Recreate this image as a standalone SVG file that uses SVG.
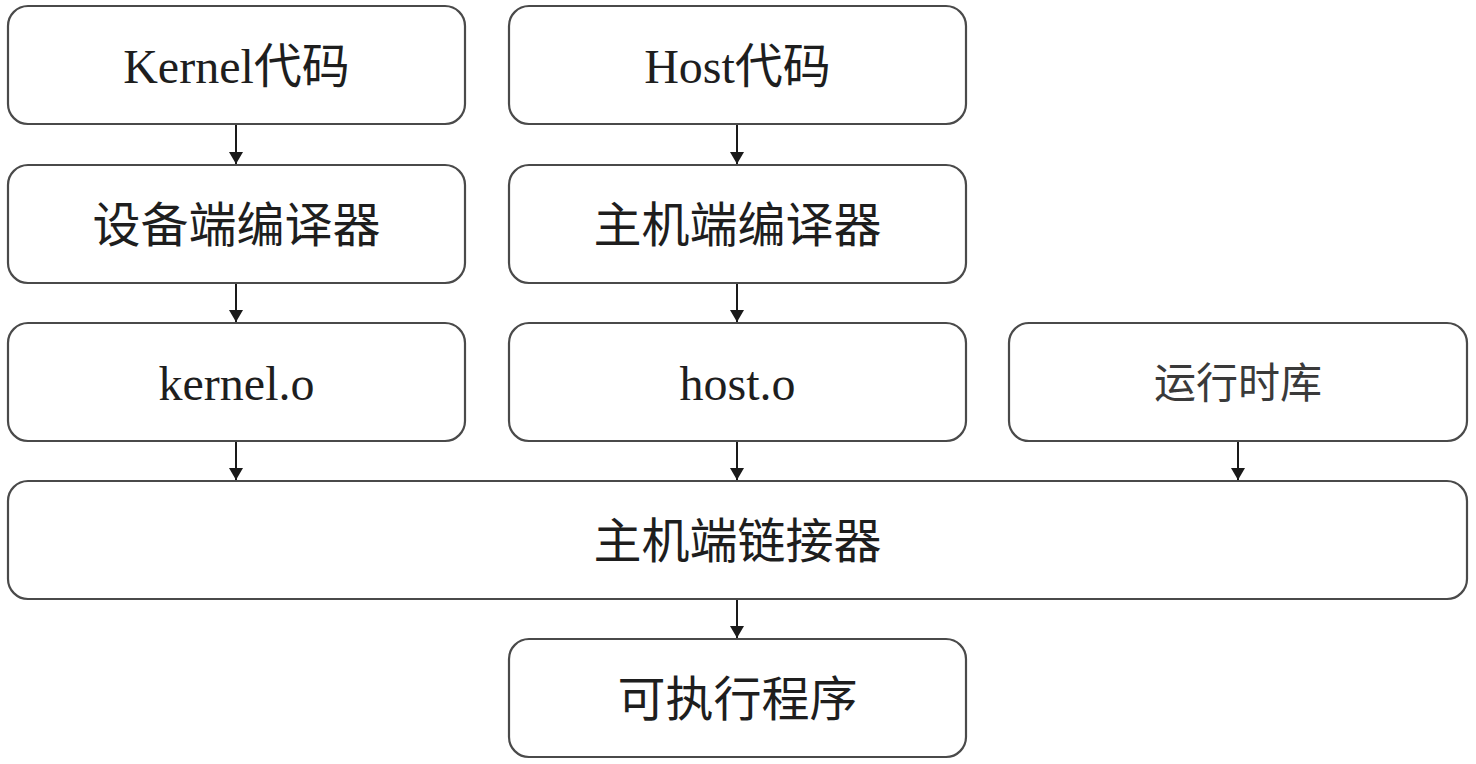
<svg xmlns="http://www.w3.org/2000/svg" width="1476" height="764" viewBox="0 0 1476 764">
<defs>
<style>
.box{fill:#fff;stroke:#4a4a4a;stroke-width:2.2}
.t{font-family:"Liberation Serif","Noto Sans CJK SC",serif;font-size:48px;fill:#1e1e1e;text-anchor:middle}
.t2{font-family:"Liberation Serif","Noto Sans CJK SC",serif;font-size:42px;fill:#3a3a3a;text-anchor:middle}
.c{stroke:#1a1a1a;stroke-width:2;fill:none;marker-end:url(#ah)}
</style>
<marker id="ah" viewBox="0 0 12 14" refX="12" refY="7" markerWidth="12" markerHeight="14" markerUnits="userSpaceOnUse" orient="auto">
<path d="M0,0 L12,7 L0,14 Z" fill="#1a1a1a"/>
</marker>
</defs>
<rect width="1476" height="764" fill="#fff"/>
<g id="connectors">
<path class="c" d="M236,125 V164"/>
<path class="c" d="M737,125 V164"/>
<path class="c" d="M236,284 V322"/>
<path class="c" d="M737,284 V322"/>
<path class="c" d="M236,442 V480"/>
<path class="c" d="M737,442 V480"/>
<path class="c" d="M1238,442 V480"/>
<path class="c" d="M737,600 V638"/>
</g>
<g id="kernel-code"><rect class="box" x="8" y="6" width="457" height="118" rx="20"/><text class="t" x="236.5" y="83">Kernel代码</text></g>
<g id="host-code"><rect class="box" x="509" y="6" width="457" height="118" rx="20"/><text class="t" x="737.5" y="83">Host代码</text></g>
<g id="device-compiler"><rect class="box" x="8" y="165" width="457" height="118" rx="20"/><text class="t" x="236.5" y="242">设备端编译器</text></g>
<g id="host-compiler"><rect class="box" x="509" y="165" width="457" height="118" rx="20"/><text class="t" x="737.5" y="242">主机端编译器</text></g>
<g id="kernel-o"><rect class="box" x="8" y="323" width="457" height="118" rx="20"/><text class="t" x="236.5" y="400">kernel.o</text></g>
<g id="host-o"><rect class="box" x="509" y="323" width="457" height="118" rx="20"/><text class="t" x="737.5" y="400">host.o</text></g>
<g id="runtime"><rect class="box" x="1009" y="323" width="458" height="118" rx="20"/><text class="t2" x="1238" y="398">运行时库</text></g>
<g id="linker"><rect class="box" x="8" y="481" width="1459" height="118" rx="20"/><text class="t" x="737.5" y="558">主机端链接器</text></g>
<g id="executable"><rect class="box" x="509" y="639" width="457" height="118" rx="20"/><text class="t" x="737.5" y="716">可执行程序</text></g>
</svg>
